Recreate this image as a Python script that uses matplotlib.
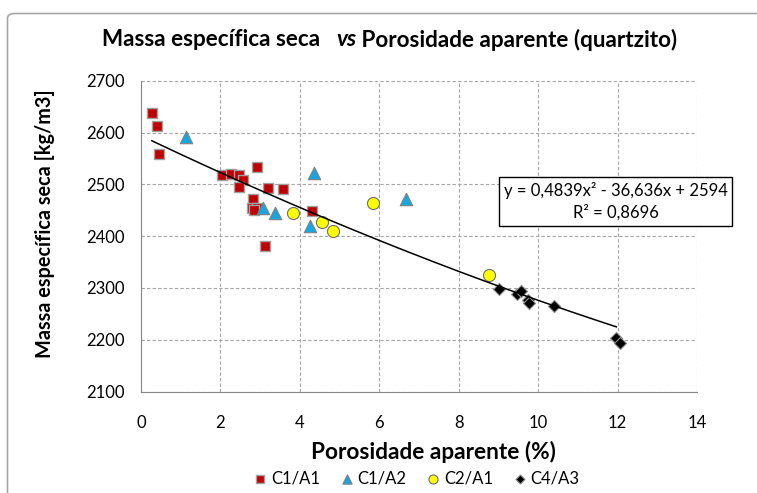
import numpy as np
import matplotlib.pyplot as plt
from matplotlib.patches import FancyBboxPatch

plt.rcParams['font.family'] = ['Lato', 'DejaVu Sans']

# C1/A1
c1a1_x = [0.27, 0.40, 0.45, 2.03, 2.26, 2.47, 2.56, 2.47, 2.91, 3.21, 3.58,
          2.83, 2.79, 2.91, 2.85, 3.12, 4.31]
c1a1_y = [2638, 2613, 2558, 2517, 2519, 2517, 2509, 2495, 2534, 2492, 2490,
          2472, 2454, 2455, 2450, 2381, 2449]
# C1/A2
c1a2_x = [1.13, 3.07, 3.37, 4.36, 4.26, 6.68]
c1a2_y = [2591, 2455, 2445, 2521, 2419, 2471]
# C2/A1
c2a1_x = [3.83, 4.55, 4.84, 5.84, 8.75]
c2a1_y = [2444, 2428, 2410, 2463, 2324]
# C4/A3
c4a3_x = [9.01, 9.46, 9.57, 9.75, 9.78, 10.39, 11.97, 12.07]
c4a3_y = [2298, 2288, 2294, 2277, 2270, 2266, 2204, 2194]

# linha de tendência (polinomial de 2a ordem)
coef = [0.4839, -36.636, 2594]
eq_text = 'y = 0,4839x² - 36,636x + 2594\nR² = 0,8696'

W, H = 757, 493
fig = plt.figure(figsize=(W / 100, H / 100), dpi=100)
ax = fig.add_axes([141 / W, 1 - 391.5 / H, 556 / W, 310.8 / H])
renderer = fig.canvas.get_renderer()


def fit(t, target, vertical=False):
    # ajusta o tamanho da fonte para a largura (ou altura) desejada em px
    bb = t.get_window_extent(renderer)
    cur = bb.height if vertical else bb.width
    t.set_fontsize(t.get_fontsize() * target / cur)


# moldura do gráfico
frame = FancyBboxPatch((7.5 / W, -0.05), 1.1, 1.05 - 13.5 / H,
                       boxstyle='round,pad=0,rounding_size=0.01',
                       transform=fig.transFigure, facecolor='none',
                       edgecolor='#a6a6a6', linewidth=1.2, clip_on=False)
fig.patches.append(frame)

edge = '#a0a0a0'
ax.scatter(c1a1_x, c1a1_y, marker='s', s=62, color='#c00000',
           edgecolors=edge, linewidths=1.0, zorder=3, label='C1/A1')
ax.scatter(c1a2_x, c1a2_y, marker='^', s=80, color='#16a6e0',
           edgecolors='#808080', linewidths=0.8, zorder=3, label='C1/A2')
ax.scatter(c2a1_x, c2a1_y, marker='o', s=75, color='#ffff00',
           edgecolors='#6f6f6f', linewidths=0.8, zorder=3, label='C2/A1')
ax.scatter(c4a3_x, c4a3_y, marker='D', s=38, color='black',
           edgecolors='#909090', linewidths=0.8, zorder=3, label='C4/A3')

all_x = c1a1_x + c1a2_x + c2a1_x + c4a3_x
xt = np.linspace(min(all_x), max(c4a3_x) - 0.1, 200)
ax.plot(xt, np.polyval(coef, xt), color='black', linewidth=1.1, zorder=4)

ax.set_xlim(0, 14)
ax.set_ylim(2100, 2700)
ax.set_xticks(range(0, 15, 2))
ax.set_yticks(range(2100, 2701, 100))
ax.grid(True, color='#a6a6a6', linestyle=(0, (3, 2)), linewidth=0.8)
ax.set_axisbelow(True)
for s in ['top', 'right']:
    ax.spines[s].set_visible(False)
for s in ['left', 'bottom']:
    ax.spines[s].set_color('#868686')
ax.tick_params(length=0, labelsize=12, colors='black')
ax.tick_params(axis='y', pad=12)
ax.tick_params(axis='x', pad=17)

xl = ax.set_xlabel('Porosidade aparente (%)', fontweight='bold', va='center')
ax.xaxis.set_label_coords((433.7 - 141) / 556, (391.5 - 452) / 310.8)
fit(xl, 246)
yl = ax.set_ylabel('Massa específica seca [kg/m3]', fontweight='bold',
                   va='center')
ax.yaxis.set_label_coords((45 - 141) / 556, (391.5 - 223.5) / 310.8)
fit(yl, 269, vertical=True)

# título com "vs" em itálico
ty = 1 - 40 / H
parts = [('Massa específica seca   ', 'normal'), ('vs', 'italic'),
         (' Porosidade aparente (quartzito)', 'normal')]
texts = [fig.text(0, ty, p, fontsize=14, fontweight='bold', style=st,
                  va='center') for p, st in parts]
widths = [t.get_window_extent(renderer).width for t in texts]
scale = 581 / sum(widths)
x0 = 101.7
for t in texts:
    t.set_fontsize(14 * scale)
    t.set_x(x0 / W)
    x0 += t.get_window_extent(renderer).width

fig.text(615.5 / W, 1 - 201.5 / H, eq_text, fontsize=12, ha='center',
         va='center', linespacing=1.35,
         bbox=dict(boxstyle='square,pad=0.3', facecolor='white',
                   edgecolor='black', linewidth=1.0))

fig.legend(loc='center', bbox_to_anchor=(415 / W, 1 - 478 / H), ncol=4,
           frameon=False, fontsize=12, handletextpad=0.05, columnspacing=1.0,
           markerscale=0.75, borderpad=0, handlelength=1.2)

fig.savefig('out.png', dpi=100)
